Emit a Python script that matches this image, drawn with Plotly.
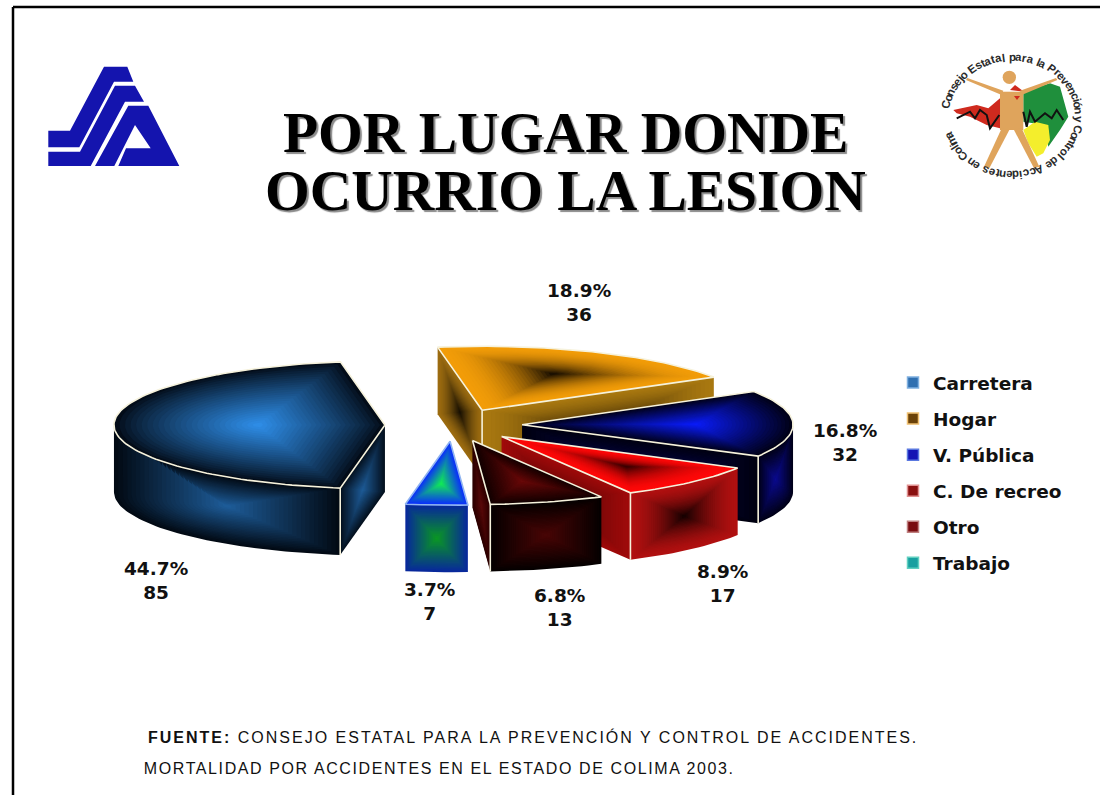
import math
import plotly.graph_objects as go

# ---------- data ----------
CATEGORIES = ["Carretera", "Hogar", "V. Pública", "C. De recreo", "Otro", "Trabajo"]
COUNTS = [85, 36, 32, 17, 13, 7]
TITLE_LINES = ["POR LUGAR DONDE", "OCURRIO LA LESION"]
SOURCE_LINES = ["<b>FUENTE:</b> CONSEJO ESTATAL PARA LA PREVENCIÓN Y CONTROL DE ACCIDENTES.",
                "MORTALIDAD POR ACCIDENTES EN EL ESTADO DE COLIMA 2003."]
RING_TEXT = "Consejo Estatal para la Prevención y Control de Accidentes en Colima"

# ---------- style ----------
W, H = 1100, 795
CX, CY, RX, RY, DEPTH, PULL = 453.5, 425.0, 271.0, 64.0, 67.0, 0.253
START_DEG = 260.5           # start of Carretera, slices run clockwise
DRAW_ORDER = [1, 0, 2, 3, 5, 4]
LEVELS = 26
EDGE = "#f6f2dc"
FONT_B = "DejaVu Sans"
SWATCH = ["#2f6fb0", "#6b4208", "#1414b4", "#8a1010", "#7a0c10", "#18a0a0"]
SWATCH_EDGE = ["#7fb0e0", "#f0c070", "#5a78e0", "#e09090", "#c08080", "#60d0c0"]
LABEL_XY = [(156, 580), (579, 302), (845, 442), (722, 583), (559, 607), (429, 601)]
# (edge colour, centre colour, gamma) per face
TOP = [("#030c18", "#2f90ec", 0.85), ("#f29c08", "#0a0500", 1.9), ("#010118", "#0a1cff", 1.0),
       ("#ff0808", "#2a0000", 1.9), ("#120000", "#6a0808", 1.0), ("#0a2aff", "#12f050", 1.0)]
WALL = [("#020a14", "#1e5e9c", 1.0), None, ("#010118", "#0a0a90", 1.0),
        ("#b01010", "#0e0000", 1.6), ("#050000", "#4a0505", 1.0), ("#08289c", "#0a9a20", 1.0)]
CUT = [("#04101e", "#1e5c98", 1.0), ("#a87810", "#2a1a02", 1.4), ("#000010", "#05055a", 1.0),
       ("#a00a0a", "#5a0505", 1.0), ("#2a0000", "#5a0a0a", 1.0), None]
CUT_LEFT_HOGAR = ("#9c6c10", "#120c02", 1.5)


def hex_rgb(c):
    return tuple(int(c[i:i + 2], 16) for i in (1, 3, 5))


def lerp(a, b, t):
    ra, rb = hex_rgb(a), hex_rgb(b)
    return "rgb(%d,%d,%d)" % tuple(round(ra[i] + (rb[i] - ra[i]) * t) for i in range(3))


fig = go.Figure()


def centroid(poly):
    a = cx = cy = 0.0
    n = len(poly)
    for i in range(n):
        x0, y0 = poly[i]
        x1, y1 = poly[(i + 1) % n]
        w = x0 * y1 - x1 * y0
        a += w
        cx += (x0 + x1) * w
        cy += (y0 + y1) * w
    return cx / (3 * a), cy / (3 * a)


def face(poly, style):
    """Concentric gradient fill of a polygon."""
    ce, cc, gamma = style
    mx, my = centroid(poly)
    for k in range(LEVELS):
        t = k / LEVELS
        s = 1 - t
        pts = [(mx + (x - mx) * s, my + (y - my) * s) for x, y in poly]
        xs = [p[0] for p in pts] + [pts[0][0]]
        ys = [p[1] for p in pts] + [pts[0][1]]
        fig.add_trace(go.Scatter(x=xs, y=ys, mode="lines", fill="toself",
                                 fillcolor=lerp(ce, cc, t ** gamma), line=dict(width=0),
                                 hoverinfo="skip", showlegend=False))


def stroke(pts, width=1.6, color=EDGE):
    fig.add_trace(go.Scatter(x=[p[0] for p in pts], y=[p[1] for p in pts], mode="lines",
                             line=dict(width=width, color=color), hoverinfo="skip", showlegend=False))


total = sum(COUNTS)
spans = []
a = START_DEG
for c in COUNTS:
    s = c / total * 360
    spans.append((a, a - s))
    a -= s

for i in DRAW_ORDER:
    a1, a2 = spans[i]
    mid = math.radians((a1 + a2) / 2)
    tx = CX + PULL * RX * math.cos(mid)
    ty = CY - PULL * RY * math.sin(mid)

    def rim(deg, d=0.0):
        r = math.radians(deg)
        return (tx + RX * math.cos(r), ty - RY * math.sin(r) + d)

    steps = max(6, int((a1 - a2) / 1.5))
    arc = [a1 + (a2 - a1) * k / steps for k in range(steps + 1)]
    top = [(tx, ty)] + [rim(d) for d in arc]
    start_vis = math.cos(math.radians(a1)) < 0
    end_vis = math.cos(math.radians(a2)) > 0

    if start_vis and CUT[i]:
        p = rim(a1)
        st = CUT_LEFT_HOGAR if i == 1 else CUT[i]
        face([(tx, ty), p, (p[0], p[1] + DEPTH), (tx, ty + DEPTH)], st)
    if end_vis and CUT[i]:
        p = rim(a2)
        face([(tx, ty), p, (p[0], p[1] + DEPTH), (tx, ty + DEPTH)], CUT[i])
    front = [d for d in arc if math.sin(math.radians(d)) < 0.0]
    if front and WALL[i]:
        face([rim(d) for d in front] + [rim(d, DEPTH) for d in reversed(front)], WALL[i])

    face(top, TOP[i])
    stroke(top + [top[0]], 1.6, "#8fb4f0" if i == 5 else EDGE)
    if start_vis and end_vis:
        stroke([(tx, ty), (tx, ty + DEPTH)], 1.6)
    elif start_vis and CUT[i]:
        p = rim(a1)
        stroke([p, (p[0], p[1] + DEPTH)], 1.6)
    elif end_vis and CUT[i]:
        p = rim(a2)
        stroke([p, (p[0], p[1] + DEPTH)], 1.6)

# legend entries
for name, col, ec in zip(CATEGORIES, SWATCH, SWATCH_EDGE):
    fig.add_trace(go.Scatter(x=[None], y=[None], mode="markers", name=name, legendgroup=name,
                             marker=dict(symbol="square", size=11, color=col, line=dict(width=1.5, color=ec))))

ann = []
# title (shadowed)
for line, y in zip(TITLE_LINES, (132, 190)):
    ann.append(dict(x=565, y=y, text=line, showarrow=False,
                    font=dict(family="Liberation Serif", size=57.5, color="#000000", weight=700,
                              shadow="2px 2px 1px #8a8a8a")))
# value labels
for c, (x, y) in zip(COUNTS, LABEL_XY):
    ann.append(dict(x=x, y=y, text=f"{c / total * 100:.1f}%<br>{c}", showarrow=False,
                    font=dict(family=FONT_B, size=18.5, color="#111111", weight=700)))
# source: centred, then widened by letter spacing after drawing
for line, xc, y in zip(SOURCE_LINES, (532.5, 439), (737, 768)):
    ann.append(dict(x=xc, y=y, text=line, showarrow=False,
                    font=dict(family="Liberation Sans", size=16, color="#111111")))

# ---------- logos ----------
shapes = []


def poly_path(points, ox, oy):
    pts = [(ox + x / 3, oy + y / 3) for x, y in points]
    return "M " + " L ".join(f"{x:.1f} {y:.1f}" for x, y in pts) + " Z"


def add_poly(points, ox, oy, color):
    shapes.append(dict(type="path", path=poly_path(points, ox, oy), xref="x", yref="y",
                       fillcolor=color, line=dict(width=0), layer="below"))


BLUE = "#1414ae"
add_poly([(85, 272), (150, 272), (252, 80), (322, 80), (340, 125), (282, 125), (178, 322), (85, 322)], 20, 40, BLUE)
add_poly([(85, 335), (180, 335), (285, 137), (345, 137), (372, 185), (315, 185), (212, 378), (85, 378)], 20, 40, BLUE)
add_poly([(225, 378), (325, 197), (385, 197), (478, 378), (295, 378), (318, 325), (392, 325), (345, 255), (283, 378)], 20, 40, BLUE)

LX, LY = 920, 50
add_poly([(310, 125), (390, 100), (420, 110), (445, 200), (420, 240), (385, 290), (375, 225), (310, 215)], LX, LY, "#1f8f3c")
add_poly([(310, 240), (345, 215), (385, 225), (390, 270), (370, 310), (350, 320), (325, 280)], LX, LY, "#f4ee2c")
add_poly([(100, 180), (170, 165), (205, 175), (240, 145), (240, 235), (200, 225), (150, 200), (110, 190)], LX, LY, "#cf2a1e")
add_poly([(270, 120), (285, 105), (312, 125)], LX, LY, "#cf2a1e")
TAN = "#dfa45c"
add_poly([(240, 125), (310, 125), (310, 240), (240, 240)], LX, LY, TAN)
add_poly([(138, 90), (142, 84), (250, 122), (245, 135)], LX, LY, TAN)
add_poly([(412, 90), (408, 84), (300, 122), (305, 135)], LX, LY, TAN)
add_poly([(245, 235), (268, 240), (208, 355), (192, 350)], LX, LY, TAN)
add_poly([(305, 235), (282, 240), (342, 355), (358, 350)], LX, LY, TAN)
shapes.append(dict(type="circle", xref="x", yref="y", x0=LX + 248 / 3, x1=LX + 288 / 3, y0=LY + 62 / 3,
                   y1=LY + 102 / 3, fillcolor=TAN, line=dict(width=0), layer="below"))
add_poly([(282, 138), (300, 138), (291, 150)], LX, LY, "#cf2a1e")
for seg in ([(110, 205), (150, 185), (165, 205), (180, 180), (200, 195), (210, 235), (238, 195)],
            [(310, 185), (320, 230), (330, 185), (345, 215), (375, 190), (395, 205), (410, 180), (430, 210)]):
    p = "M " + " L ".join(f"{LX + x / 3:.1f} {LY + y / 3:.1f}" for x, y in seg)
    shapes.append(dict(type="path", path=p, xref="x", yref="y", line=dict(width=2, color="#111111"), layer="below"))


# ring text: letters laid clockwise around the badge, spaced by approximate glyph width
def glyph_w(ch):
    if ch in "il.j ":
        return 0.32
    if ch == "t":
        return 0.36
    if ch in "fr":
        return 0.42
    if ch.isupper():
        return 0.72
    return 0.6


rcx, rcy, rrx, rry = 1012.0, 116.0, 67.0, 59.0
start_cw = -82.0          # degrees from 12 o'clock
sweep = 336.0
widths = [glyph_w(ch) for ch in RING_TEXT]
run = 0.0
for ch, w in zip(RING_TEXT, widths):
    ang = start_cw + sweep * (run + w / 2) / sum(widths)
    run += w
    if ch == " ":
        continue
    r = math.radians(ang)
    ann.append(dict(x=rcx + rrx * math.sin(r), y=rcy - rry * math.cos(r), text=ch, showarrow=False,
                    textangle=ang, font=dict(family="Liberation Sans", size=11.5, color="#2a2a2a", weight=700)))

# frame
for x0, y0, x1, y1 in ((13, 7, 1100, 7), (13, 7, 13, 795)):
    shapes.append(dict(type="line", x0=x0, y0=y0, x1=x1, y1=y1, xref="x", yref="y",
                       line=dict(width=2.5, color="#000000"), layer="above"))

fig.update_layout(
    width=W, height=H, margin=dict(l=0, r=0, t=0, b=0), paper_bgcolor="#ffffff", plot_bgcolor="#ffffff",
    xaxis=dict(range=[0, W], visible=False, fixedrange=True),
    yaxis=dict(range=[H, 0], visible=False, fixedrange=True),
    annotations=ann, shapes=shapes, hovermode=False,
    showlegend=True,
    legend=dict(x=893 / W, xanchor="left", y=1 - 364 / H, yanchor="top", traceorder="grouped",
                tracegroupgap=9, bgcolor="rgba(0,0,0,0)", itemclick=False, itemdoubleclick=False,
                font=dict(family=FONT_B, size=18.5, color="#111111", weight=700)),
)
POST = """
document.body.style.margin='0';document.body.style.overflow='hidden';
document.querySelectorAll('.annotation-text').forEach(function(t){
  var s=t.textContent;
  if(s.indexOf('FUENTE')===0){t.style.letterSpacing='2px';}
  if(s.indexOf('MORTALIDAD')===0){t.style.letterSpacing='1.6px';}
});
"""
fig.write_html("out.html", config=dict(displayModeBar=False), post_script=POST)
